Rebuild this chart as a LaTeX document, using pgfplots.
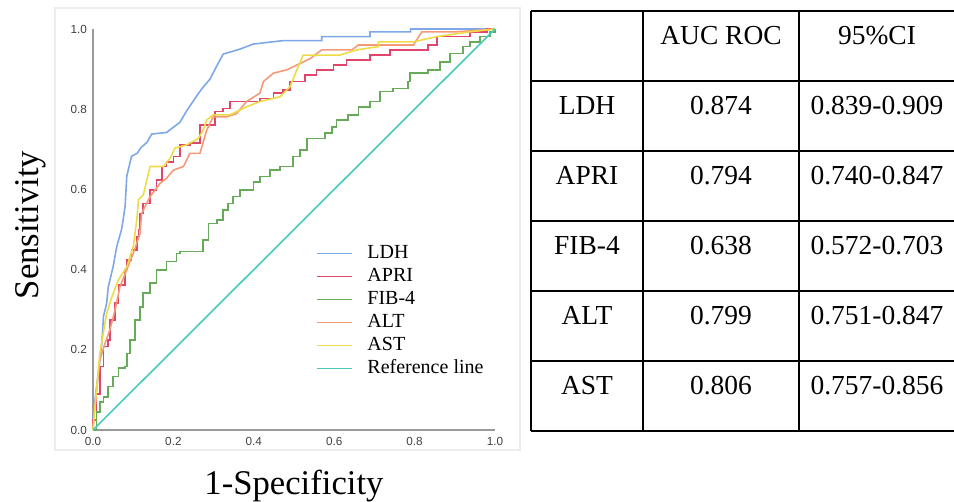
\documentclass[border=0pt]{standalone}
\usepackage{pgfplots}
\pgfplotsset{compat=1.18}
\usepackage{fontspec}
\setmainfont{Liberation Serif}
\newfontfamily\ticksans{Liberation Sans}
\definecolor{cLDH}{HTML}{7EA8E8}
\definecolor{cAPRI}{HTML}{E0456C}
\definecolor{cFIB}{HTML}{66AA5A}
\definecolor{cALT}{HTML}{F49A78}
\definecolor{cAST}{HTML}{EEDB48}
\definecolor{cREF}{HTML}{45CDBA}
\definecolor{axgray}{HTML}{9A9A9A}
\begin{document}
\begin{tikzpicture}
\useasboundingbox (0,0) rectangle (715.5pt,-376.5pt);
\begin{scope}[x=0.75pt,y=-0.75pt]
  % faint frame round the plot image
  \draw[black!7, line width=0.8pt] (55,8) rectangle (520,450);
\end{scope}

\begin{axis}[
  at={(69.75pt,-322.5pt)}, anchor=south west,
  scale only axis,
  width=301.5pt, height=300.75pt,
  xmin=0, xmax=1, ymin=0, ymax=1,
  axis lines*=left,
  axis line style={axgray, line width=1.1pt},
  major tick length=0pt,
  xtick={0,0.2,0.4,0.6,0.8,1}, ytick={0,0.2,0.4,0.6,0.8,1},
  xticklabels={0.0,0.2,0.4,0.6,0.8,1.0},
  yticklabels={0.0,0.2,0.4,0.6,0.8,1.0},
  ticklabel style={font=\ticksans\fontsize{8.8}{10}\selectfont, text=black!75},
  xticklabel style={yshift=-2pt},
  yticklabel style={xshift=-1pt},
  clip=false,
  legend cell align=left,
  legend style={at={(0.556,0.463)}, anchor=north west, draw=none, fill=none,
    font=\fontsize{15}{17}\selectfont, inner sep=0pt, outer sep=0pt,
    column sep=11pt, row sep=3.25pt,
    nodes={inner sep=0pt, text height=10.5pt, text depth=3.5pt}},
  legend image code/.code={\draw[#1, line width=1.2pt] (0pt,0pt) -- (26pt,0pt);},
  every axis plot/.append style={line width=1.2pt},
]
\addplot[cLDH] coordinates {
 (0,0) (0,0.025) (0.005,0.075) (0.013,0.14) (0.022,0.216) (0.026,0.283)
 (0.034,0.316) (0.038,0.357) (0.05,0.407) (0.059,0.457) (0.071,0.5)
 (0.075,0.524) (0.08,0.56) (0.084,0.633) (0.096,0.683) (0.11,0.69)
 (0.12,0.705) (0.134,0.717) (0.146,0.738) (0.183,0.742) (0.2,0.755)
 (0.216,0.767) (0.233,0.796) (0.258,0.833) (0.27,0.85) (0.291,0.875)
 (0.308,0.908) (0.324,0.9375) (0.366,0.95) (0.399,0.9625) (0.473,0.971)
 (0.569,0.971) (0.569,0.981) (0.689,0.981) (0.689,0.993) (0.79,0.993)
 (0.79,1) (1,1)
};
\addlegendentry{LDH}
\addplot[cAPRI, const plot] coordinates {
 (0,0) (0,0.025) (0.009,0.09) (0.017,0.158) (0.026,0.208) (0.038,0.224)
 (0.042,0.274) (0.055,0.316) (0.063,0.362) (0.08,0.4) (0.084,0.424)
 (0.096,0.449) (0.109,0.482) (0.113,0.5) (0.117,0.54) (0.125,0.565)
 (0.142,0.599) (0.158,0.623) (0.171,0.657) (0.183,0.669) (0.2,0.682)
 (0.216,0.711) (0.241,0.715) (0.266,0.761) (0.287,0.761) (0.303,0.794)
 (0.324,0.802) (0.341,0.819) (0.382,0.819) (0.415,0.827) (0.449,0.84)
 (0.473,0.848) (0.49,0.869) (0.527,0.885) (0.556,0.898) (0.598,0.91)
 (0.631,0.923) (0.689,0.935) (0.739,0.948) (0.834,0.96) (0.855,0.981)
 (0.938,0.993) (0.98,1) (1,1)
};
\addlegendentry{APRI}
\addplot[cFIB, const plot] coordinates {
 (0,0) (0.009,0.045) (0.017,0.07) (0.026,0.083) (0.038,0.108) (0.05,0.133)
 (0.063,0.154) (0.08,0.158) (0.084,0.191) (0.092,0.224) (0.104,0.274)
 (0.117,0.307) (0.125,0.341) (0.142,0.366) (0.158,0.399) (0.183,0.42)
 (0.208,0.44) (0.216,0.445) (0.266,0.445) (0.274,0.474) (0.287,0.515)
 (0.308,0.524) (0.324,0.549) (0.336,0.565) (0.349,0.582) (0.366,0.599)
 (0.399,0.619) (0.415,0.632) (0.44,0.648) (0.465,0.657) (0.498,0.682)
 (0.515,0.698) (0.532,0.727) (0.573,0.727) (0.577,0.74) (0.594,0.756)
 (0.606,0.773) (0.635,0.786) (0.66,0.806) (0.689,0.819) (0.714,0.844)
 (0.747,0.852) (0.784,0.869) (0.789,0.89) (0.834,0.898) (0.863,0.918)
 (0.888,0.939) (0.921,0.956) (0.938,0.968) (0.963,0.981) (0.988,0.993)
 (1,1)
};
\addlegendentry{FIB-4}
\addplot[cALT] coordinates {
 (0,0) (0.005,0.06) (0.017,0.175) (0.03,0.216) (0.042,0.25) (0.055,0.3)
 (0.067,0.357) (0.084,0.4) (0.1,0.44) (0.117,0.49) (0.121,0.54)
 (0.142,0.582) (0.167,0.615) (0.183,0.628) (0.2,0.648) (0.225,0.657)
 (0.241,0.69) (0.266,0.69) (0.283,0.748) (0.299,0.781) (0.333,0.781)
 (0.357,0.789) (0.382,0.819) (0.415,0.84) (0.424,0.869) (0.449,0.89)
 (0.482,0.898) (0.515,0.914) (0.54,0.926) (0.569,0.948) (0.644,0.948)
 (0.66,0.96) (0.797,0.96) (0.818,0.993) (0.905,0.993) (1,1)
};
\addlegendentry{ALT}
\addplot[cAST] coordinates {
 (0,0) (0.005,0.058) (0.017,0.191) (0.034,0.291) (0.047,0.332)
 (0.063,0.374) (0.084,0.407) (0.1,0.457) (0.109,0.524) (0.113,0.574)
 (0.125,0.586) (0.142,0.657) (0.175,0.657) (0.192,0.678) (0.204,0.703)
 (0.233,0.711) (0.262,0.727) (0.274,0.748) (0.283,0.773) (0.299,0.786)
 (0.341,0.786) (0.382,0.806) (0.415,0.819) (0.465,0.831) (0.49,0.856)
 (0.507,0.898) (0.523,0.935) (0.614,0.935) (0.656,0.948) (0.71,0.956)
 (0.71,0.968) (0.797,0.968) (0.855,0.981) (0.938,0.993) (1,1)
};
\addlegendentry{AST}
\addplot[cREF] coordinates {(0,0) (1,1)};
\addlegendentry{Reference line}
\end{axis}

\begin{scope}[x=0.75pt,y=-0.75pt]
  % axis titles
  \node[rotate=90, anchor=base, font=\fontsize{26}{30}\selectfont] at (38,225) {Sensitivity};
  \node[anchor=base, font=\fontsize{26}{30}\selectfont] at (294,494) {1-Specificity};
  % table
  \foreach \yy in {11,81,151,221,291,361,431}
    \draw[line width=1.4pt] (531,\yy) -- (960,\yy);
  \foreach \xx in {531,643,799}
    \draw[line width=1.4pt] (\xx,11) -- (\xx,431);
  \begin{scope}[every node/.style={anchor=base, font=\fontsize{20.6}{24}\selectfont}]
    \node at (721,45) {AUC ROC};
    \node at (877,45) {95\%CI};
    \node at (587,115) {LDH};   \node at (721,115) {0.874}; \node at (877,115) {0.839-0.909};
    \node at (587,185) {APRI};  \node at (721,185) {0.794}; \node at (877,185) {0.740-0.847};
    \node at (587,255) {FIB-4}; \node at (721,255) {0.638}; \node at (877,255) {0.572-0.703};
    \node at (587,325) {ALT};   \node at (721,325) {0.799}; \node at (877,325) {0.751-0.847};
    \node at (587,395) {AST};   \node at (721,395) {0.806}; \node at (877,395) {0.757-0.856};
  \end{scope}
\end{scope}
\end{tikzpicture}
\end{document}
